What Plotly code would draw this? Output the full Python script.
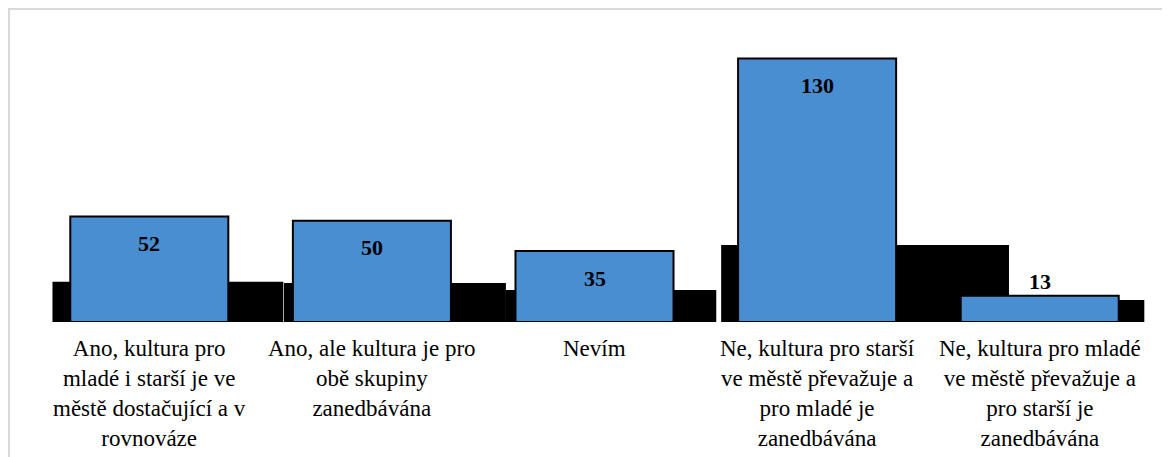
import plotly.graph_objects as go

categories = [
    "Ano, kultura pro<br>mladé i starší je ve<br>městě dostačující a v<br>rovnováze",
    "Ano, ale kultura je pro<br>obě skupiny<br>zanedbávána",
    "Nevím",
    "Ne, kultura pro starší<br>ve městě převažuje a<br>pro mladé je<br>zanedbávána",
    "Ne, kultura pro mladé<br>ve městě převažuje a<br>pro starší je<br>zanedbávána",
]
values = [52, 50, 35, 130, 13]
# heights of the black "shadow" blocks behind each bar
shadow_values = [19.8, 19.3, 15.8, 38.0, 10.9]

# style: shadow block geometry in category units
shadow_offsets = [-0.435, -0.395, -0.40, -0.431, -0.43]
shadow_widths = [1.037, 0.997, 0.947, 1.293, 0.90]

FONT = "Liberation Serif"

fig = go.Figure()
fig.add_trace(go.Bar(
    x=categories, y=shadow_values,
    width=shadow_widths, offset=shadow_offsets,
    marker=dict(color="black", line=dict(width=0)),
    hoverinfo="skip", showlegend=False,
))
fig.add_trace(go.Bar(
    x=categories, y=values,
    width=0.71,
    marker=dict(color="#4A8ED2", line=dict(color="black", width=2)),
    showlegend=False,
))

# value labels
for c, v in zip(categories, values):
    inside = v > 20
    fig.add_annotation(
        x=c, y=v, text=f"<b>{v}</b>", showarrow=False,
        yshift=-27 if inside else 14, yanchor="middle",
        font=dict(family=FONT, size=22, color="black"),
    )

# category labels (placed at each category on the x axis)
for c in categories:
    fig.add_annotation(
        x=c, y=0, text=c, showarrow=False, yanchor="top", xanchor="center",
        align="center", yshift=-12,
        font=dict(family=FONT, size=23, color="black"),
    )

# page body has an 8px margin, so the figure is sized to fit the window
W, H = 1162, 449
L, R, T, B = 30, 19, 10, 135
pw, ph = W - L - R, H - T - B
fig.add_shape(
    type="rect", xref="paper", yref="paper",
    x0=(1 - L) / pw, x1=(W + 10 - L) / pw,
    y0=-(H + 10 - (H - B)) / ph, y1=((H - B) - 1) / ph,
    line=dict(color="#D9D9D9", width=2), fillcolor="rgba(0,0,0,0)", layer="below",
)

fig.update_layout(
    width=W, height=H,
    margin=dict(l=L, r=R, t=T, b=B, autoexpand=False),
    barmode="overlay",
    plot_bgcolor="white", paper_bgcolor="white",
    font=dict(family=FONT, size=23, color="black"),
)
fig.update_xaxes(showgrid=False, showline=False, ticks="", showticklabels=False,
                 automargin=False)
fig.update_yaxes(range=[0, 150], visible=False, showgrid=False, zeroline=False)

fig.write_html("out.html")
